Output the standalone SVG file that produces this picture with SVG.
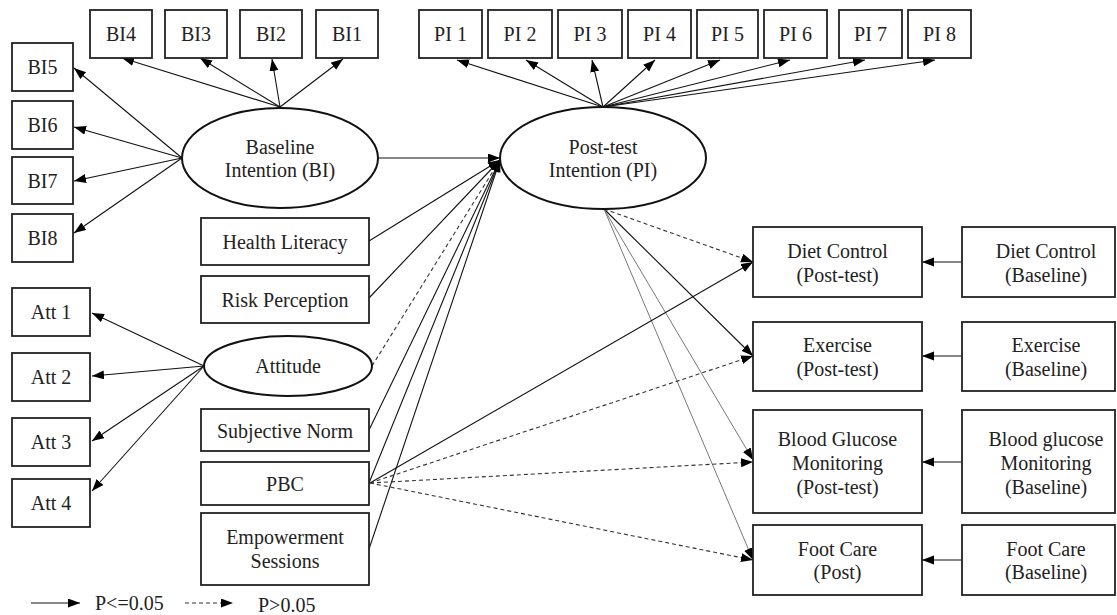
<svg xmlns="http://www.w3.org/2000/svg" width="1117" height="615" viewBox="0 0 1117 615">
<defs>
<marker id="ah" markerUnits="userSpaceOnUse" markerWidth="13" markerHeight="10" refX="12" refY="4.5" orient="auto">
<path d="M0,0 L12,4.5 L0,9 z" fill="#000"/>
</marker>
<style>
.box{fill:#fff;stroke:#222;stroke-width:1.8}
.ell{fill:#fff;stroke:#111;stroke-width:2}
text{font-family:"Liberation Serif","Times New Roman",serif;font-size:20px;fill:#222;text-anchor:middle}
.c{fill:none;stroke:#111;stroke-width:1.1;marker-end:url(#ah)}
.d{stroke-dasharray:4,3;stroke:#333}
.g{stroke:#777;stroke-width:1}
</style>
</defs>
<rect width="1117" height="615" fill="#fff"/>
<g id="connectors">
<!-- BI indicators -->
<path class="c" d="M280,107 L122,58"/>
<path class="c" d="M280,107 L200,58"/>
<path class="c" d="M280,107 L272,59"/>
<path class="c" d="M280,107 L343,59"/>
<path class="c" d="M182,158 L74,68"/>
<path class="c" d="M182,158 L74,127"/>
<path class="c" d="M182,158 L74,181"/>
<path class="c" d="M182,158 L74,233"/>
<!-- PI indicators -->
<path class="c" d="M603,107 L457,60"/>
<path class="c" d="M603,107 L526,60"/>
<path class="c" d="M603,107 L592,60"/>
<path class="c" d="M603,107 L655,60"/>
<path class="c" d="M603,107 L720,60"/>
<path class="c" d="M603,107 L790,60"/>
<path class="c" d="M603,107 L865,60"/>
<path class="c" d="M603,107 L935,60"/>
<!-- Attitude indicators -->
<path class="c" d="M204,366 L92,313"/>
<path class="c" d="M204,366 L92,376"/>
<path class="c" d="M204,366 L92,441"/>
<path class="c" d="M204,366 L92,491"/>
<!-- Predictors to PI -->
<path class="c" d="M379,158 L500,158"/>
<path class="c" d="M369,241 L500,160"/>
<path class="c" d="M369,298 L500,160"/>
<path class="c d" d="M372,366 L500,160"/>
<path class="c" d="M369,430 L500,160"/>
<path class="c" d="M369,483 L500,160"/>
<path class="c" d="M369,549 L500,160"/>
<!-- PI to outcomes -->
<path class="c d" d="M604,209 L753,262"/>
<path class="c" d="M604,209 L753,356"/>
<path class="c g" d="M604,209 L753,460"/>
<path class="c g" d="M604,209 L753,560"/>
<!-- PBC to outcomes -->
<path class="c" d="M370,483 L753,262"/>
<path class="c d" d="M370,483 L753,356"/>
<path class="c d" d="M370,483 L753,462"/>
<path class="c d" d="M370,483 L753,560"/>
<!-- Baseline to post -->
<path class="c" d="M962,262 L922,262"/>
<path class="c" d="M962,356 L922,356"/>
<path class="c" d="M962,462 L922,462"/>
<path class="c" d="M962,560 L922,560"/>
<!-- legend -->
<path class="c" d="M31,603 L80,603"/>
<path class="c d" d="M185,603 L233,603"/>
</g>
<g id="n-bi4"><rect class="box" x="90" y="10" width="62" height="48"/><text x="121" y="41">BI4</text></g>
<g id="n-bi3"><rect class="box" x="165" y="10" width="62" height="48"/><text x="196" y="41">BI3</text></g>
<g id="n-bi2"><rect class="box" x="240" y="10" width="62" height="48"/><text x="271" y="41">BI2</text></g>
<g id="n-bi1"><rect class="box" x="316" y="10" width="62" height="48"/><text x="347" y="41">BI1</text></g>
<g id="n-bi5"><rect class="box" x="12" y="43" width="61" height="48"/><text x="42.5" y="74">BI5</text></g>
<g id="n-bi6"><rect class="box" x="12" y="101" width="61" height="48"/><text x="42.5" y="132">BI6</text></g>
<g id="n-bi7"><rect class="box" x="12" y="157" width="61" height="47"/><text x="42.5" y="188">BI7</text></g>
<g id="n-bi8"><rect class="box" x="12" y="214" width="61" height="48"/><text x="42.5" y="245">BI8</text></g>
<g id="n-bi"><ellipse class="ell" cx="280" cy="158" rx="98" ry="50"/><text x="280" y="154">Baseline</text><text x="280" y="177">Intention (BI)</text></g>
<g id="n-pi1"><rect class="box" x="419" y="10" width="63" height="48"/><text x="450.5" y="41">PI 1</text></g>
<g id="n-pi2"><rect class="box" x="488" y="10" width="64" height="48"/><text x="520" y="41">PI 2</text></g>
<g id="n-pi3"><rect class="box" x="558" y="10" width="64" height="48"/><text x="590" y="41">PI 3</text></g>
<g id="n-pi4"><rect class="box" x="628" y="10" width="63" height="48"/><text x="659.5" y="41">PI 4</text></g>
<g id="n-pi5"><rect class="box" x="697" y="10" width="61" height="48"/><text x="727.5" y="41">PI 5</text></g>
<g id="n-pi6"><rect class="box" x="764" y="10" width="63" height="48"/><text x="795.5" y="41">PI 6</text></g>
<g id="n-pi7"><rect class="box" x="839" y="10" width="63" height="48"/><text x="870.5" y="41">PI 7</text></g>
<g id="n-pi8"><rect class="box" x="908" y="10" width="63" height="48"/><text x="939.5" y="41">PI 8</text></g>
<g id="n-pi"><ellipse class="ell" cx="603" cy="158" rx="103" ry="51"/><text x="603" y="154">Post-test</text><text x="603" y="177">Intention (PI)</text></g>
<g id="n-hl"><rect class="box" x="201" y="218" width="168" height="47"/><text x="285" y="249">Health Literacy</text></g>
<g id="n-rp"><rect class="box" x="201" y="276" width="168" height="47"/><text x="285" y="307">Risk Perception</text></g>
<g id="n-att"><ellipse class="ell" cx="288" cy="366" rx="84" ry="30"/><text x="288" y="373">Attitude</text></g>
<g id="n-sn"><rect class="box" x="201" y="409" width="168" height="42"/><text x="285" y="438">Subjective Norm</text></g>
<g id="n-pbc"><rect class="box" x="201" y="462" width="168" height="43"/><text x="285" y="491">PBC</text></g>
<g id="n-es"><rect class="box" x="201" y="513" width="168" height="72"/><text x="285" y="544">Empowerment</text><text x="285" y="568">Sessions</text></g>
<g id="n-att1"><rect class="box" x="12" y="288" width="78" height="48"/><text x="51" y="319">Att 1</text></g>
<g id="n-att2"><rect class="box" x="12" y="353" width="78" height="48"/><text x="51" y="384">Att 2</text></g>
<g id="n-att3"><rect class="box" x="12" y="418" width="78" height="48"/><text x="51" y="449">Att 3</text></g>
<g id="n-att4"><rect class="box" x="12" y="479" width="78" height="48"/><text x="51" y="510">Att 4</text></g>
<g id="n-dcp"><rect class="box" x="753" y="227" width="169" height="70"/><text x="837.5" y="258">Diet Control</text><text x="837.5" y="282">(Post-test)</text></g>
<g id="n-dcb"><rect class="box" x="962" y="227" width="153" height="70"/><text x="1046" y="258">Diet Control</text><text x="1046" y="282">(Baseline)</text></g>
<g id="n-exp"><rect class="box" x="753" y="322" width="169" height="69"/><text x="837.5" y="352">Exercise</text><text x="837.5" y="376">(Post-test)</text></g>
<g id="n-exb"><rect class="box" x="962" y="322" width="153" height="69"/><text x="1046" y="352">Exercise</text><text x="1046" y="376">(Baseline)</text></g>
<g id="n-bgp"><rect class="box" x="753" y="410" width="169" height="103"/><text x="837.5" y="446">Blood Glucose</text><text x="837.5" y="470">Monitoring</text><text x="837.5" y="494">(Post-test)</text></g>
<g id="n-bgb"><rect class="box" x="962" y="410" width="153" height="103"/><text x="1046" y="446">Blood glucose</text><text x="1046" y="470">Monitoring</text><text x="1046" y="494">(Baseline)</text></g>
<g id="n-fcp"><rect class="box" x="753" y="525" width="169" height="70"/><text x="837.5" y="556">Foot Care</text><text x="837.5" y="579">(Post)</text></g>
<g id="n-fcb"><rect class="box" x="962" y="525" width="153" height="70"/><text x="1046" y="556">Foot Care</text><text x="1046" y="579">(Baseline)</text></g>
<g id="legend"><text x="95" y="610" style="text-anchor:start">P&lt;=0.05</text><text x="258" y="612" style="text-anchor:start">P&gt;0.05</text></g>
</svg>
